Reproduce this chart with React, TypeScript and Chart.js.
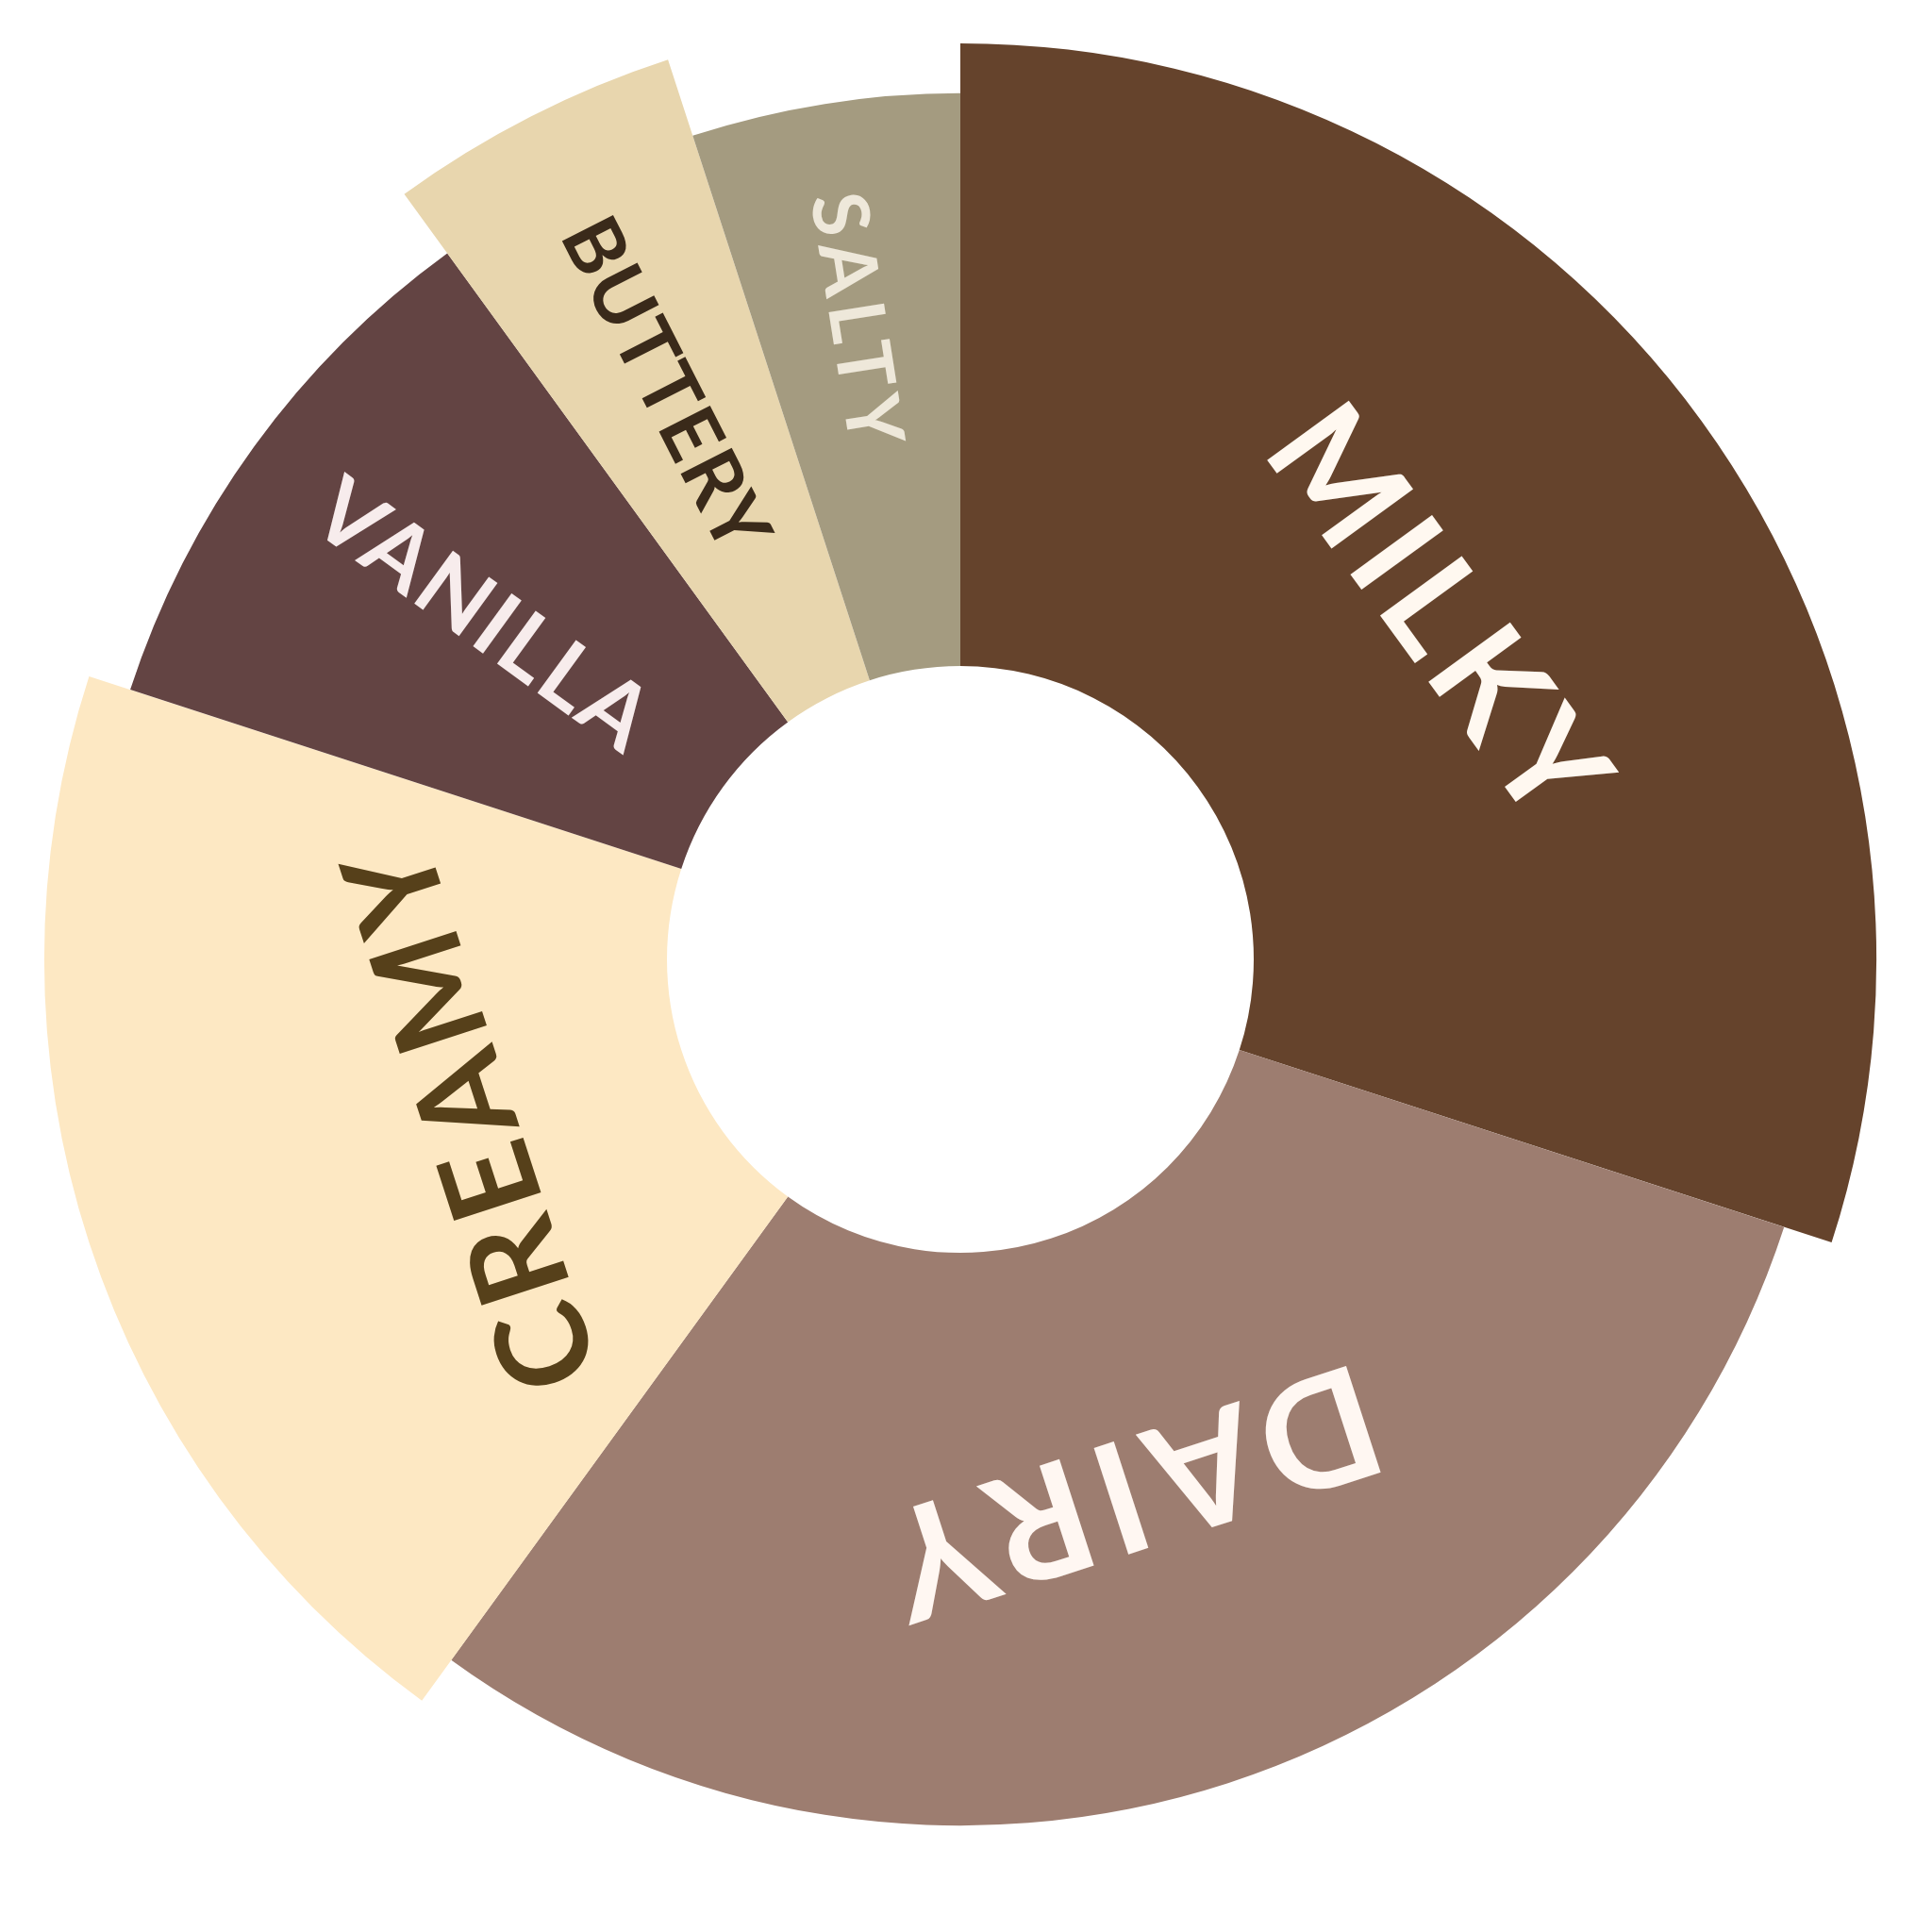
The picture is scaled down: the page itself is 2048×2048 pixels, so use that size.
import { useEffect, useRef } from "react";
import { ArcElement, Chart, DoughnutController, type Plugin } from "chart.js";

Chart.register(ArcElement, DoughnutController);

// flavour wheel: share of the ring (angle) and intensity (how far the slice reaches out)
const flavours = ["MILKY", "DAIRY", "CREAMY", "VANILLA", "BUTTERY", "SALTY"];
const shares = [30, 30, 20, 10, 5, 5];
const intensity = [93.5, 86, 93.5, 87, 98, 86];

const sliceColors = ["#65432C", "#9D7D70", "#FDE8C3", "#634443", "#E8D6AE", "#A49B80"];
const textColors = ["#FFF8F0", "#FFF7F2", "#56401A", "#F7ECEC", "#3A2A1A", "#EEE8DA"];

// label look: size, whether it runs along the radius, where in the ring it sits
const labelSize = [148, 164, 134, 96, 84, 82];
const labelSpacing = [10, 12, 8, 3, 2, 8];
const labelRadial = [false, false, false, true, true, true];
const labelPlace = [0.48, 0.47, 0.36, 0.51, 0.54, 0.62];

const intensityRadius: Plugin<"doughnut"> = {
  id: "intensityRadius",
  afterDatasetUpdate(_chart, args) {
    args.meta.data.forEach((el, i) => {
      const arc = el as any;
      const inner = arc.innerRadius;
      arc.outerRadius = inner + (arc.outerRadius - inner) * (intensity[i] / 100);
    });
  },
};

const flavourLabels: Plugin<"doughnut"> = {
  id: "flavourLabels",
  afterDatasetsDraw(chart) {
    const ctx = chart.ctx;
    const meta = chart.getDatasetMeta(0);
    meta.data.forEach((el, i) => {
      const { x, y, startAngle, endAngle, innerRadius, outerRadius } = (el as any).getProps(
        ["x", "y", "startAngle", "endAngle", "innerRadius", "outerRadius"],
        true,
      );
      const mid = (startAngle + endAngle) / 2;
      const r = innerRadius + (outerRadius - innerRadius) * labelPlace[i];
      ctx.save();
      ctx.translate(x + Math.cos(mid) * r, y + Math.sin(mid) * r);
      ctx.rotate(labelRadial[i] ? mid + Math.PI : mid + Math.PI / 2);
      ctx.font = `700 ${labelSize[i]}px Lato`;
      (ctx as any).letterSpacing = `${labelSpacing[i]}px`;
      ctx.fillStyle = textColors[i];
      ctx.textAlign = "center";
      ctx.textBaseline = "alphabetic";
      const m = ctx.measureText(flavours[i]);
      ctx.fillText(flavours[i], labelSpacing[i] / 2, m.actualBoundingBoxAscent / 2);
      ctx.restore();
    });
  },
};

export default function App() {
  const canvasRef = useRef<HTMLCanvasElement>(null);

  useEffect(() => {
    if (!canvasRef.current) return;
    const chart = new Chart(canvasRef.current, {
      type: "doughnut",
      data: {
        labels: flavours,
        datasets: [
          {
            data: shares,
            backgroundColor: sliceColors,
            borderWidth: 0,
            hoverOffset: 0,
          },
        ],
      },
      options: {
        responsive: false,
        devicePixelRatio: 1,
        animation: false,
        cutout: 311,
        layout: { padding: { left: 0, top: 0, right: 12, bottom: 14 } },
        plugins: { legend: { display: false }, tooltip: { enabled: false } },
        events: [],
      },
      plugins: [intensityRadius, flavourLabels],
    });
    return () => chart.destroy();
  }, []);

  return (
    <div style={{ position: "absolute", left: 0, top: 0, width: 2048, height: 2048, background: "#fff" }}>
      <canvas ref={canvasRef} width={2048} height={2048} />
    </div>
  );
}
